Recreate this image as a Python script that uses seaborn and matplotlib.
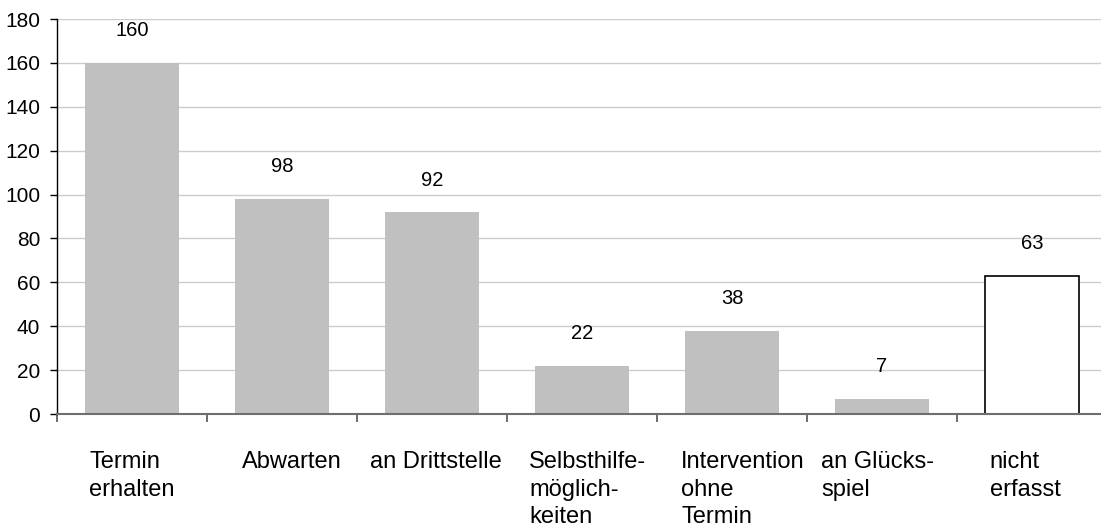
import matplotlib
matplotlib.use("Agg")
import matplotlib.pyplot as plt
import matplotlib.transforms as mtransforms
import seaborn as sns
import pandas as pd

# Data
categories = ["Termin\nerhalten", "Abwarten", "an Drittstelle",
              "Selbsthilfe-\nmöglich-\nkeiten", "Intervention\nohne\nTermin",
              "an Glücks-\nspiel", "nicht\nerfasst"]
values = [160, 98, 92, 22, 38, 7, 63]
y_ticks = [0, 20, 40, 60, 80, 100, 120, 140, 160, 180]

sns.set_theme(style="white")
plt.rcParams["font.family"] = ["Liberation Sans", "DejaVu Sans"]

df = pd.DataFrame({"cat": categories, "val": values})

fig = plt.figure(figsize=(11.01, 5.30), dpi=100)
ax = fig.add_axes([57 / 1101, 116 / 530, 1050 / 1101, 395 / 530])

sns.barplot(data=df, x="cat", y="val", color="#C0C0C0", width=0.63,
            saturation=1, ax=ax, zorder=2)

# last bar: white with black outline
for i, p in enumerate(ax.patches):
    p.set_linewidth(0)
    if i == len(values) - 1:
        p.set_facecolor("white")
        p.set_edgecolor("black")
        p.set_linewidth(1.2)

ax.set_xlim(-0.5, len(values) - 0.5)
ax.set_ylim(0, 180)
ax.set_yticks(y_ticks)
ax.set_yticklabels([str(t) for t in y_ticks], fontsize=15)
ax.yaxis.grid(True, color="#CCCCCC", linewidth=1, zorder=0)
ax.set_axisbelow(True)
ax.set_xlabel("")
ax.set_ylabel("")

for s in ["top", "right"]:
    ax.spines[s].set_visible(False)
ax.spines["left"].set_color("black")
ax.spines["left"].set_linewidth(1)
ax.spines["bottom"].set_color("#6E6E6E")
ax.spines["bottom"].set_linewidth(1.5)
ax.spines["bottom"].set_zorder(3)

ax.tick_params(axis="y", which="major", left=True, direction="out",
               length=5, width=1, color="black", pad=7, labelcolor="black")

# category labels below, boundaries marked with minor ticks
ax.set_xticks(range(len(values)))
ax.set_xticklabels([])
ax.tick_params(axis="x", which="major", length=0)
ax.set_xticks([i - 0.5 for i in range(len(values) + 1)], minor=True)
ax.tick_params(axis="x", which="minor", bottom=True, direction="out",
               length=6, width=1.2, color="#555555")

# small horizontal nudges (points) for the wrapped category labels
nudges = [0, 7, 3, 4, 8, -3, -5]
trans = mtransforms.blended_transform_factory(ax.transData, ax.transAxes)
for i, lab in enumerate(categories):
    ax.annotate(lab, xy=(i, 0), xycoords=trans, xytext=(nudges[i], -27),
                textcoords="offset points", ha="center", va="top",
                multialignment="left", fontsize=17, linespacing=1.3,
                color="black")

# value labels above bars
for i, v in enumerate(values):
    ax.annotate(str(v), xy=(i, v), xytext=(0, 23), textcoords="offset points",
                ha="center", va="center", fontsize=14.5, color="black")

fig.savefig("out.png", dpi=100)
